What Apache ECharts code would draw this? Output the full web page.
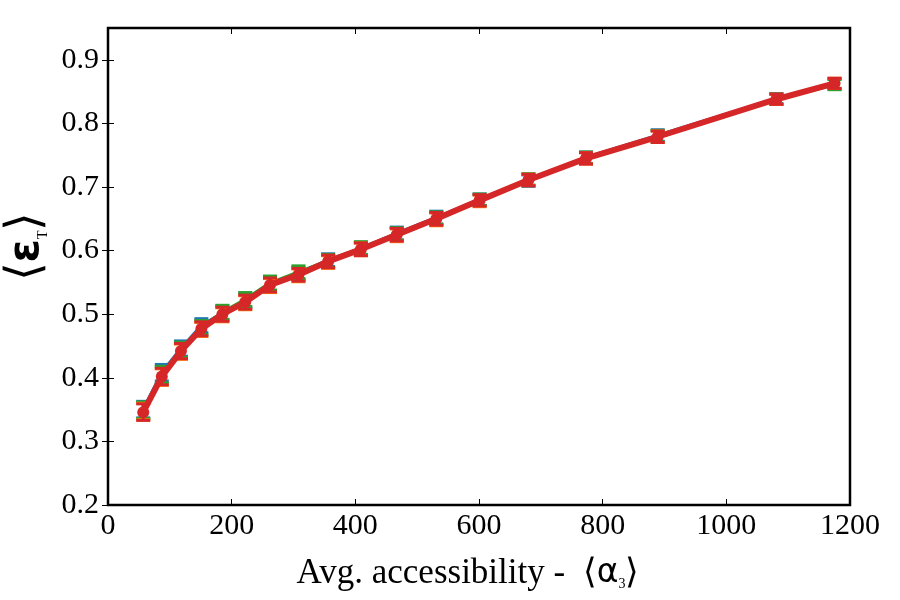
<!DOCTYPE html>
<html>
<head>
<meta charset="utf-8">
<script src="https://cdn.jsdelivr.net/npm/echarts@6/dist/echarts.min.js"></script>
<style>
  html, body { margin: 0; padding: 0; background: #fff; }
  #main { width: 900px; height: 600px; }
</style>
</head>
<body>
<div id="main"></div>
<script>
// avg accessibility <alpha_3>
var access = [57, 87, 118, 151, 185, 222, 262, 308, 356, 409, 467, 531, 601, 680, 773, 889, 1081, 1175]
// <eps_T> for the four runs
var runBlue   = [0.350, 0.408, 0.446, 0.482, 0.502, 0.522, 0.548, 0.564, 0.585, 0.603, 0.627, 0.652, 0.680, 0.710, 0.746, 0.781, 0.839, 0.862]
var runGreen  = [0.349, 0.405, 0.444, 0.479, 0.503, 0.523, 0.549, 0.566, 0.584, 0.604, 0.626, 0.651, 0.680, 0.712, 0.746, 0.780, 0.838, 0.861]
var runOrange = [0.347, 0.401, 0.441, 0.476, 0.499, 0.518, 0.545, 0.561, 0.582, 0.602, 0.624, 0.649, 0.678, 0.711, 0.745, 0.779, 0.838, 0.863]
var runRed    = [0.346, 0.402, 0.442, 0.477, 0.500, 0.519, 0.546, 0.562, 0.583, 0.602, 0.625, 0.650, 0.679, 0.711, 0.745, 0.779, 0.838, 0.863]
// standard error
var err = [0.013, 0.013, 0.012, 0.011, 0.011, 0.011, 0.011, 0.010, 0.010, 0.010, 0.010, 0.010, 0.009, 0.009, 0.009, 0.009, 0.008, 0.008]

var yTicks = [0.2, 0.3, 0.4, 0.5, 0.6, 0.7, 0.8, 0.9]

var runs = [
  { name: 'blue', color: '#1f77b4', values: runBlue },
  { name: 'green', color: '#2ca02c', values: runGreen },
  { name: 'orange', color: '#ff7f0e', values: runOrange },
  { name: 'red', color: '#d62728', values: runRed }
]

var serif = 'Liberation Serif'

function errorBars(color) {
  return function (params, api) {
    var x = api.value(0)
    var y = api.value(1)
    var e = api.value(2)
    var top = api.coord([x, y + e])
    var bot = api.coord([x, y - e])
    var half = 7
    var style = { stroke: color, lineWidth: 3 }
    return {
      type: 'group',
      children: [
        { type: 'line', shape: { x1: top[0], y1: top[1], x2: bot[0], y2: bot[1] }, style: style },
        { type: 'line', shape: { x1: top[0] - half, y1: top[1], x2: top[0] + half, y2: top[1] }, style: style },
        { type: 'line', shape: { x1: bot[0] - half, y1: bot[1], x2: bot[0] + half, y2: bot[1] }, style: style }
      ]
    }
  }
}

var series = []
runs.forEach(function (r, i) {
  var isRed = i === runs.length - 1
  series.push({
    name: r.name + '-err',
    type: 'custom',
    renderItem: errorBars(r.color),
    data: access.map(function (x, k) { return [x, r.values[k], err[k]] }),
    z: 2 + i * 2,
    silent: true
  })
  series.push({
    name: r.name,
    type: 'line',
    data: access.map(function (x, k) { return [x, r.values[k]] }),
    showSymbol: isRed,
    symbol: 'circle',
    symbolSize: isRed ? 12 : 0,
    itemStyle: { color: r.color },
    lineStyle: { color: r.color, width: isRed ? 6 : 3.5 },
    z: 3 + i * 2,
    animation: false
  })
})

var tickStyle = { inside: true, length: 6, lineStyle: { color: '#000', width: 1 } }

var myChart = echarts.init(document.getElementById('main'))
myChart.setOption({
  animation: false,
  grid: {
    left: 108,
    right: 50,
    top: 28,
    bottom: 95,
    containLabel: false,
    outerBoundsMode: 'none',
    show: true,
    borderColor: '#000',
    borderWidth: 2.5
  },
  xAxis: [
    {
      type: 'value',
      min: 0,
      max: 1200,
      interval: 200,
      axisLine: { show: false },
      axisTick: tickStyle,
      splitLine: { show: false },
      axisLabel: {
        fontFamily: serif, fontSize: 30, color: '#000', margin: 6,
        formatter: function (v) { return String(v) }
      },
      name: '{t|Avg. accessibility -  ⟨}{a|α}{s|3}{t|⟩}',
      nameLocation: 'middle',
      nameGap: 51,
      nameTextStyle: {
        padding: [0, 22, 0, 0],
        rich: {
          t: { fontFamily: serif, fontSize: 35, color: '#000' },
          a: { fontFamily: 'DejaVu Sans', fontSize: 33, color: '#000' },
          s: { fontFamily: serif, fontSize: 14, color: '#000', verticalAlign: 'bottom', padding: [16, 0, 0, 0] }
        }
      }
    },
    {
      type: 'value',
      position: 'top',
      min: 0,
      max: 1200,
      interval: 200,
      axisLine: { show: false },
      axisTick: tickStyle,
      axisLabel: { show: false },
      splitLine: { show: false }
    }
  ],
  yAxis: [
    {
      type: 'value',
      min: 0.2,
      max: 0.95,
      interval: 0.1,
      axisLine: { show: false },
      axisTick: tickStyle,
      splitLine: { show: false },
      axisLabel: {
        fontFamily: serif,
        fontSize: 30,
        color: '#000',
        margin: 9,
        customValues: yTicks,
        formatter: function (v) { return v.toFixed(1) }
      },
      name: '{t|⟨}{a|ε}{s|T}{t|⟩}',
      nameLocation: 'middle',
      nameGap: 55,
      nameTextStyle: {
        padding: [0, 0, 0, 40],
        rich: {
          t: { fontFamily: serif, fontSize: 48, color: '#000' },
          a: { fontFamily: 'DejaVu Sans', fontSize: 42, fontWeight: 'bold', color: '#000' },
          s: { fontFamily: serif, fontSize: 14, color: '#000', verticalAlign: 'bottom', padding: [20, 0, 0, 0] }
        }
      }
    },
    {
      type: 'value',
      position: 'right',
      min: 0.2,
      max: 0.95,
      interval: 0.1,
      axisLine: { show: false },
      axisTick: Object.assign({ customValues: yTicks }, tickStyle),
      axisLabel: { show: false },
      splitLine: { show: false }
    }
  ],
  series: series
})
</script>
</body>
</html>
